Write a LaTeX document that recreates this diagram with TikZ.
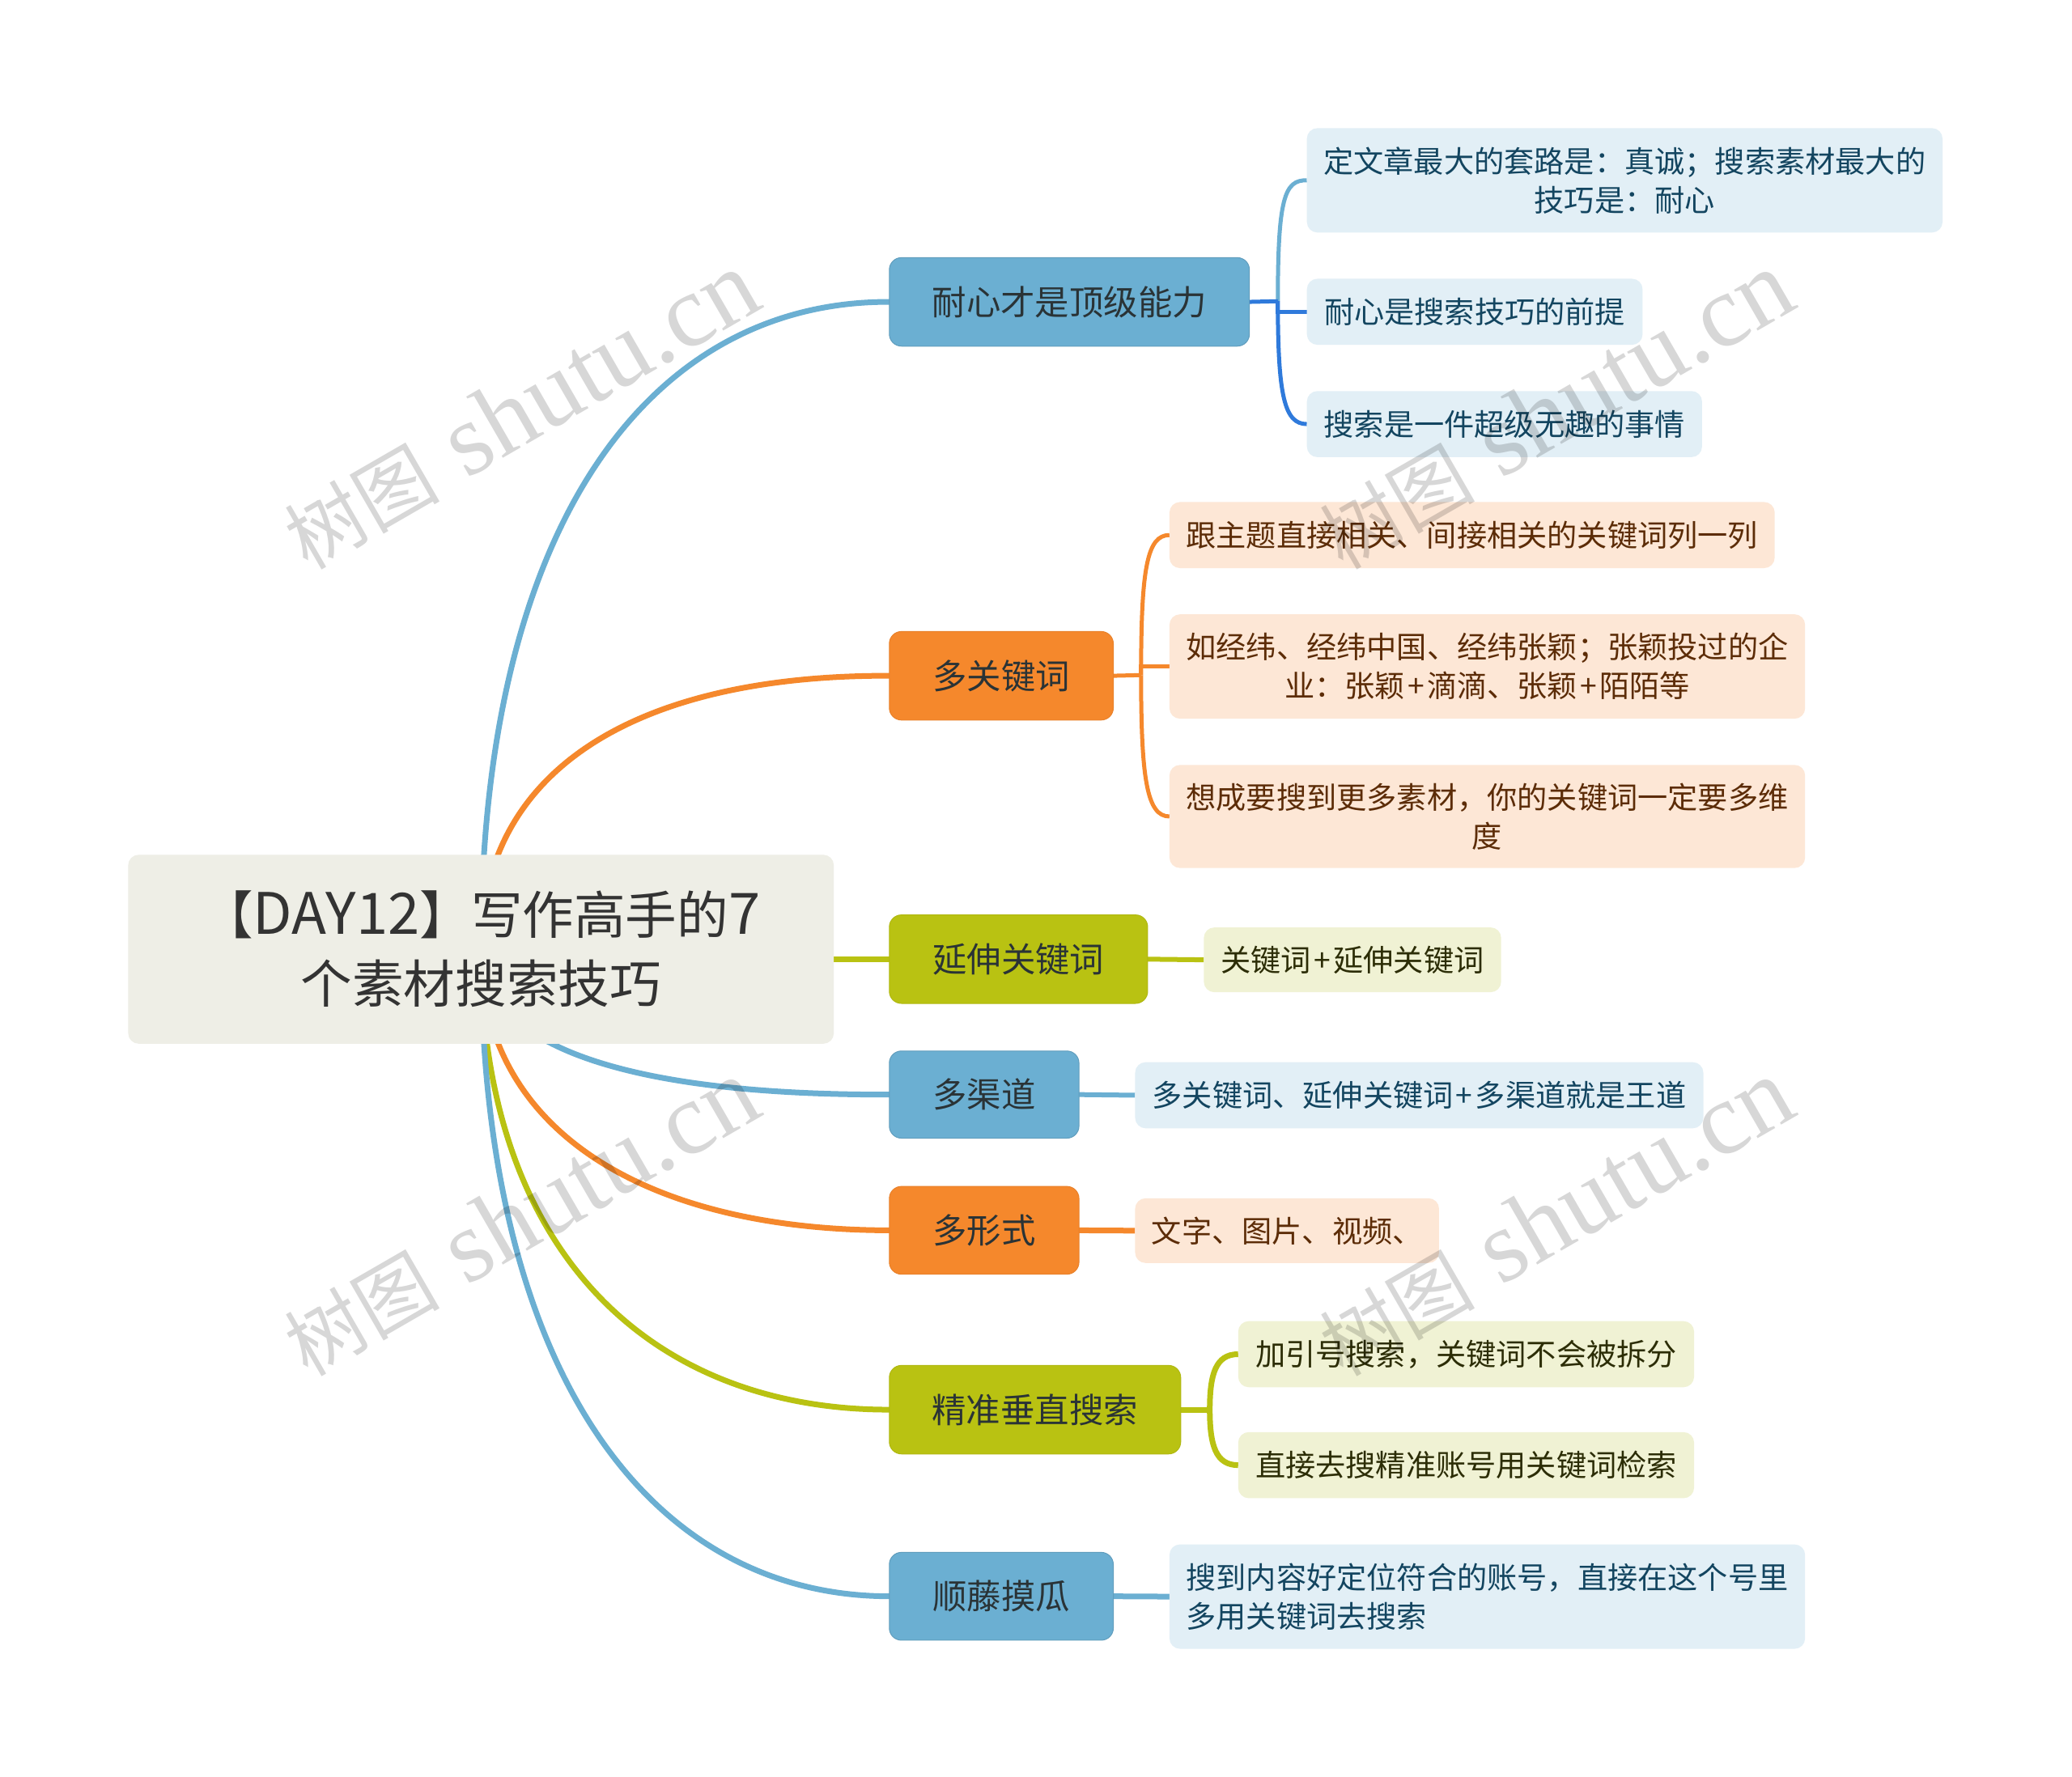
\documentclass[tikz,border=0pt]{standalone}
\usepackage{fontspec}
\usetikzlibrary{backgrounds}
\setmainfont{Noto Sans CJK SC}
\newfontfamily\latf[Scale=1.11]{Noto Sans CJK SC}
\newfontfamily\wmcjk{Noto Sans CJK SC}
\newfontfamily\wmlat{Liberation Serif}
\definecolor{cblue}{HTML}{6BAFD2}
\definecolor{cvivid}{HTML}{2F7ADB}
\definecolor{corange}{HTML}{F5882C}
\definecolor{colive}{HTML}{B9C212}
\definecolor{lblue}{HTML}{E2EFF6}
\definecolor{lorange}{HTML}{FDE7D6}
\definecolor{lolive}{HTML}{F0F2D4}
\definecolor{croot}{HTML}{EEEEE6}
\definecolor{troot}{HTML}{333333}
\definecolor{tblue}{HTML}{134560}
\definecolor{torange}{HTML}{5C2C07}
\definecolor{tolive}{HTML}{2C2D06}
\definecolor{tbranch}{HTML}{2A3336}
\tikzset{
  x=0.81633pt,y=-0.81633pt,
  box/.style={rectangle,inner sep=0pt,outer sep=0pt,align=center},
  rootbox/.style={box,fill=croot,rounded corners=6.5pt,text=troot,font=\fontsize{31.8}{42.5}\selectfont},
  branchbox/.style={box,rounded corners=7.5pt,text=tbranch,font=\fontsize{21.2}{28}\selectfont},
  bblue/.style={branchbox,fill=cblue,draw=cblue!90!black,line width=.5pt},
  borange/.style={branchbox,fill=corange,draw=corange!95!black,line width=.5pt},
  bolive/.style={branchbox,fill=colive,draw=colive!95!black,line width=.5pt},
  leafbox/.style={box,rounded corners=6.5pt,font=\fontsize{18.6}{24}\selectfont},
  leblue/.style={leafbox,fill=lblue,text=tblue},
  leorange/.style={leafbox,fill=lorange,text=torange},
  leolive/.style={leafbox,fill=lolive,text=tolive},
  mainlink/.style={line width=3.5pt},
  sublink/.style={line width=2.5pt},
  stublink/.style={line width=3pt},
  watermark/.style={rotate=30,anchor=base west,text=black,text opacity=.155,inner sep=0pt,font=\fontsize{63.5}{70}\selectfont},
}
\newcommand\bx[7]{%
  \pgfmathsetlengthmacro\bxw{(#4-#2)*0.81633pt}%
  \pgfmathsetlengthmacro\bxh{(#5-#3)*0.81633pt}%
  \node[#6,minimum width=\bxw,minimum height=\bxh] (#1) at ({(#2+#4)/2},{(#3+#5)/2}) {#7};}
\newcommand\wm[3]{\node[watermark] (#1) at (#2,#3) {{\wmcjk\fontsize{48}{52}\selectfont 树图}\hspace{17pt}{\wmlat shutu.cn}};}
\newcommand\pl{\hspace{.09em}+\hspace{.09em}}
\begin{document}
\begin{tikzpicture}
\useasboundingbox (0,0) rectangle (1568,1345);
% nodes
\bx{root}{97}{647}{631}{790}{rootbox}{【{\latf DAY12}】写作高手的{\latf 7}\\个素材搜索技巧}
\bx{ba}{673}{195}{945.5}{262}{bblue}{耐心才是顶级能力}
\bx{bb}{673}{478}{842.5}{545}{borange}{多关键词}
\bx{bc}{673}{692.5}{868.5}{759.5}{bolive}{延伸关键词}
\bx{bd}{673}{795.5}{816.5}{861.5}{bblue}{多渠道}
\bx{be}{673}{898}{816.5}{964.5}{borange}{多形式}
\bx{bf}{673}{1033.5}{893.5}{1100.5}{bolive}{精准垂直搜索}
\bx{bg}{673}{1175}{842.5}{1241.5}{bblue}{顺藤摸瓜}
\bx{la}{989}{97}{1470}{176}{leblue}{定文章最大的套路是：真诚；搜索素材最大的\\技巧是：耐心}
\bx{lb}{989}{211}{1243}{261}{leblue}{耐心是搜索技巧的前提}
\bx{lc}{989}{296}{1288}{346}{leblue}{搜索是一件超级无趣的事情}
\bx{ld}{885}{380}{1343}{430}{leorange}{跟主题直接相关、间接相关的关键词列一列}
\bx{le}{885}{465}{1366}{544}{leorange}{如经纬、经纬中国、经纬张颖；张颖投过的企\\业：张颖\pl 滴滴、张颖\pl 陌陌等}
\bx{lf}{885}{579}{1366}{657}{leorange}{想成要搜到更多素材，你的关键词一定要多维\\度}
\bx{lg}{911}{702}{1136}{751}{leolive}{关键词\pl 延伸关键词}
\bx{lh}{859}{804}{1289}{854}{leblue}{多关键词、延伸关键词\pl 多渠道就是王道}
\bx{li}{859}{907}{1089}{956}{leorange}{文字、图片、视频、}
\bx{lj}{937}{1000}{1282}{1050}{leolive}{加引号搜索，关键词不会被拆分}
\bx{lk}{937}{1084}{1282}{1134}{leolive}{直接去搜精准账号用关键词检索}
\bx{ll}{885}{1169}{1366}{1248}{leblue,align=left}{搜到内容好定位符合的账号，直接在这个号里\\多用关键词去搜索}
% junctions
\coordinate (ja) at (967,228);
\coordinate (jb) at (863.5,511);
\coordinate (jf) at (915.5,1067);
\begin{pgfonlayer}{background}
\fill[white] (0,0) rectangle (1568,1345);
% main links
\draw[mainlink,cblue] (root.center) .. controls (364,399.5) and (490,228) .. (ba.west);
\draw[mainlink,corange] (root.center) .. controls (364,583.5) and (480,511) .. (bb.west);
\draw[mainlink,colive] (root.east |- bc.west) -- (bc.west);
\draw[mainlink,cblue] (root.center) .. controls (364,790) and (470,829) .. (bd.west);
\draw[mainlink,corange] (root.center) .. controls (364,856.5) and (490,931) .. (be.west);
\draw[mainlink,colive] (root.center) .. controls (364,945) and (490,1067) .. (bf.west);
\draw[mainlink,cblue] (root.center) .. controls (364,1036.5) and (490,1208) .. (bg.west);
% sub links
\draw[sublink,cblue] (ja) .. controls (967,150) and (972,136) .. (la.west);
\draw[sublink,cvivid] (ba.east) -- (ja);
\draw[sublink,cvivid] (ja) -- (ja |- lb.west) -- (lb.west);
\draw[sublink,cvivid] (ja) .. controls (967,300) and (972,321) .. (lc.west);
\draw[sublink,corange] (bb.east) -- (jb);
\draw[sublink,corange] (jb) .. controls (863.5,430) and (868,405) .. (ld.west);
\draw[sublink,corange] (jb) -- (jb |- le.west) -- (le.west);
\draw[sublink,corange] (jb) .. controls (863.5,590) and (868,618) .. (lf.west);
\draw[stublink,colive] (bc.east) -- (lg.west);
\draw[stublink,cblue] (bd.east) -- (lh.west);
\draw[mainlink,corange] (be.east) -- (li.west);
\draw[mainlink,colive] (bf.east) -- (jf);
\draw[mainlink,colive] (jf) .. controls (915.5,1040) and (920,1025) .. (lj.west);
\draw[mainlink,colive] (jf) .. controls (915.5,1094) and (920,1109) .. (lk.west);
\draw[mainlink,cblue] (bg.east) -- (ll.west);
\end{pgfonlayer}
% watermarks
\wm{wa}{233}{432}
\wm{wb}{1016}{432}
\wm{wc}{233}{1043}
\wm{wd}{1016}{1043}
\end{tikzpicture}
\end{document}
